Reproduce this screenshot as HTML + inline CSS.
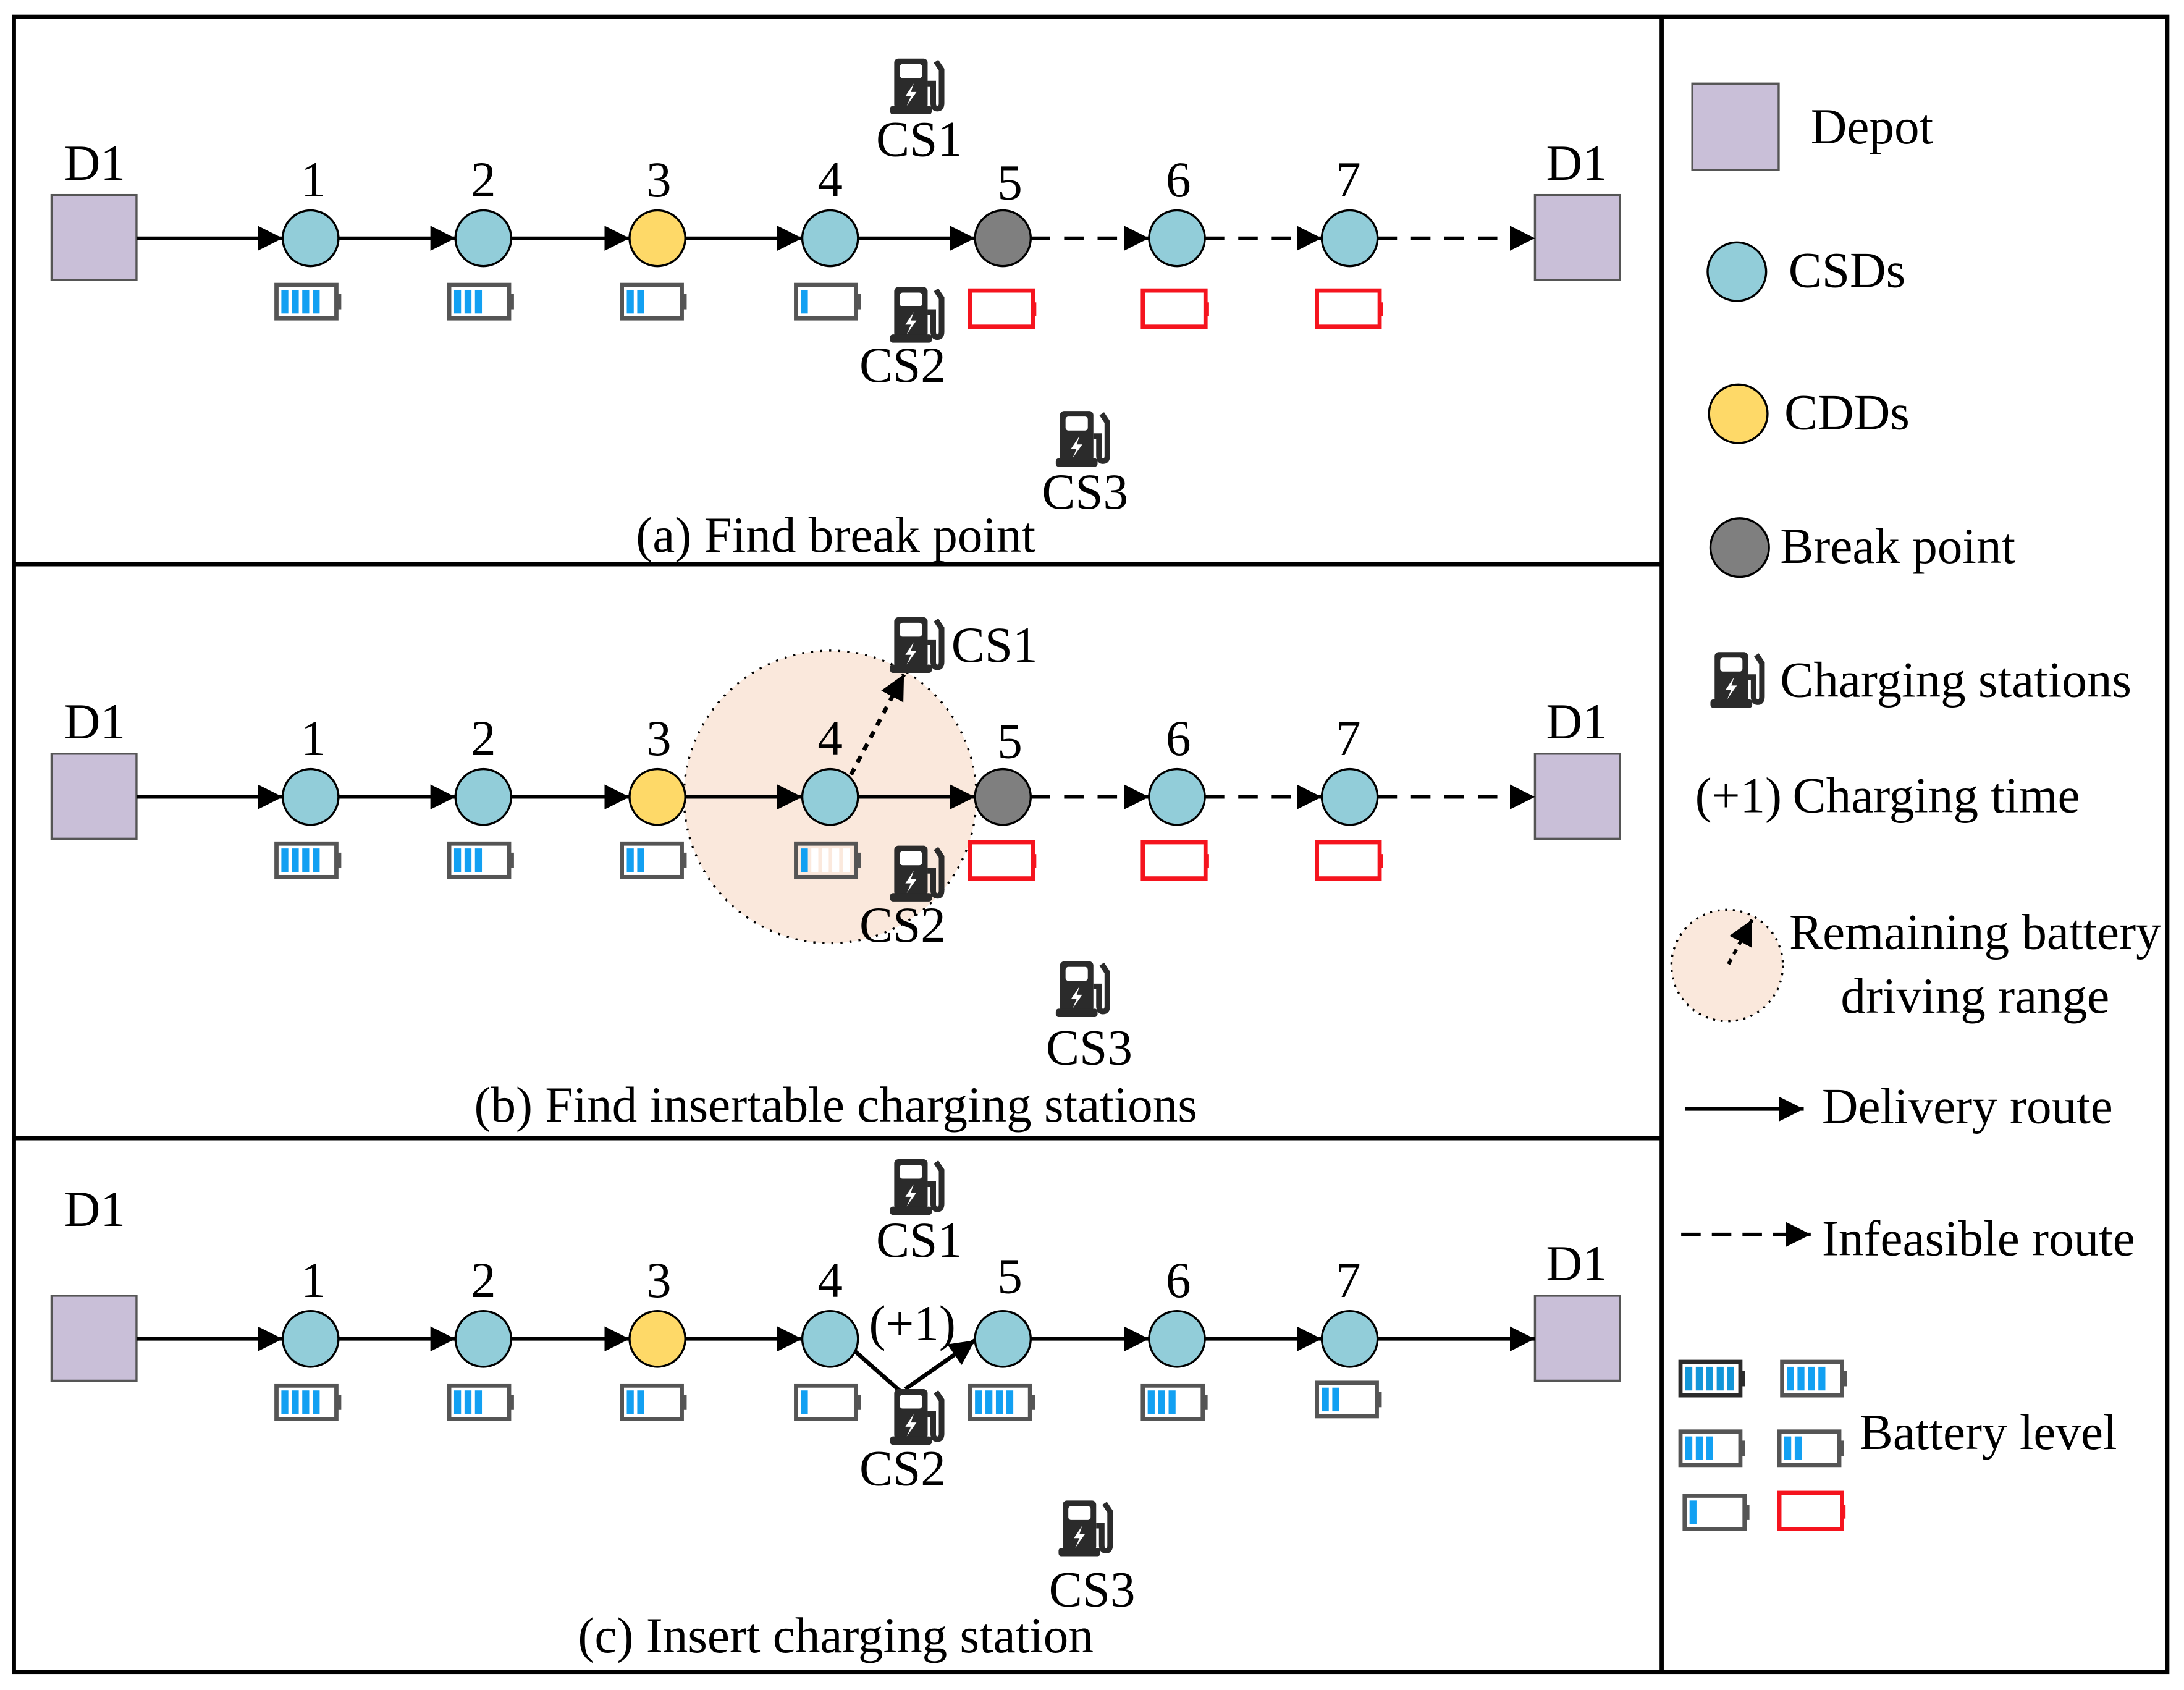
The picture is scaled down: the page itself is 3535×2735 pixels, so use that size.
<!DOCTYPE html>
<html><head><meta charset="utf-8"><style>html,body{margin:0;padding:0;background:#fff}svg{display:block}text{font-family:"Liberation Serif",serif;fill:#000}</style></head>
<body>
<svg width="3535" height="2735" viewBox="0 0 1568 1213" preserveAspectRatio="none" xmlns="http://www.w3.org/2000/svg">
<defs>
<marker id="arr" viewBox="0 0 10 10" refX="10" refY="5" markerWidth="18" markerHeight="18" orient="auto" markerUnits="userSpaceOnUse"><path d="M0,0L10,5L0,10z" fill="#000"/></marker>
<g id="cs">
<rect x="-18" y="-20" width="24" height="36" rx="3" fill="#2b2b2b"/>
<rect x="-14" y="-16" width="16" height="10" rx="2" fill="#fff"/>
<path d="M-4,-2L-10,7L-6,7L-9,14L-2,4L-6,4z" fill="#fff"/>
<rect x="-21" y="14" width="30" height="6" rx="2" fill="#2b2b2b"/>
<path d="M6,-2L10,-2L10,12Q10,16 13,16Q16,16 16,12L16,-12L12,-18" stroke="#2b2b2b" stroke-width="4" fill="none"/>
</g>
<g id="bat"><rect x="1.5" y="1.5" width="43" height="24" fill="#fff" stroke="#555" stroke-width="3"/><rect x="45" y="8" width="3" height="11" fill="#555"/></g>
<g id="red"><rect x="1.5" y="1.5" width="45" height="26" fill="#fff" stroke="#f5141e" stroke-width="3"/><rect x="46" y="10" width="3" height="10" fill="#f5141e"/></g>
<g id="b4"><use href="#bat"/><rect x="5" y="5" width="5" height="17" fill="#12a0f2"/><rect x="12.5" y="5" width="5" height="17" fill="#12a0f2"/><rect x="20" y="5" width="5" height="17" fill="#12a0f2"/><rect x="27.5" y="5" width="5" height="17" fill="#12a0f2"/></g>
<g id="b3"><use href="#bat"/><rect x="5" y="5" width="5" height="17" fill="#12a0f2"/><rect x="12.5" y="5" width="5" height="17" fill="#12a0f2"/><rect x="20" y="5" width="5" height="17" fill="#12a0f2"/></g>
<g id="b2"><use href="#bat"/><rect x="5" y="5" width="5" height="17" fill="#12a0f2"/><rect x="12.5" y="5" width="5" height="17" fill="#12a0f2"/></g>
<g id="b1"><use href="#bat"/><rect x="5" y="5" width="5" height="17" fill="#12a0f2"/></g>
</defs>

<rect x="10" y="12" width="1546" height="1188" fill="none" stroke="#000" stroke-width="3"/>
<line x1="1193" y1="12" x2="1193" y2="1200" stroke="#000" stroke-width="3"/>
<line x1="10" y1="405" x2="1193" y2="405" stroke="#000" stroke-width="3"/>
<line x1="10" y1="817" x2="1193" y2="817" stroke="#000" stroke-width="3"/>

<!-- Panel A -->
<g font-size="36" text-anchor="middle">
<rect x="37" y="140" width="61" height="61" fill="#c9bfd8" stroke="#555" stroke-width="1.5"/>
<rect x="1102" y="140" width="61" height="61" fill="#c9bfd8" stroke="#555" stroke-width="1.5"/>
<text x="68" y="129">D1</text><text x="1132" y="129">D1</text>
<g stroke="#000" stroke-width="2.5" fill="none">
<line x1="98" y1="171" x2="203" y2="171" marker-end="url(#arr)"/>
<line x1="243" y1="171" x2="327" y2="171" marker-end="url(#arr)"/>
<line x1="367" y1="171" x2="452" y2="171" marker-end="url(#arr)"/>
<line x1="492" y1="171" x2="576" y2="171" marker-end="url(#arr)"/>
<line x1="616" y1="171" x2="700" y2="171" marker-end="url(#arr)"/>
<line x1="740" y1="171" x2="825" y2="171" stroke-dasharray="14,10" marker-end="url(#arr)"/>
<line x1="865" y1="171" x2="949" y2="171" stroke-dasharray="14,10" marker-end="url(#arr)"/>
<line x1="989" y1="171" x2="1102" y2="171" stroke-dasharray="14,10" marker-end="url(#arr)"/>
</g>
<g stroke="#000" stroke-width="1.5">
<circle cx="223" cy="171" r="20" fill="#92cdd9"/><circle cx="347" cy="171" r="20" fill="#92cdd9"/><circle cx="472" cy="171" r="20" fill="#fed968"/><circle cx="596" cy="171" r="20" fill="#92cdd9"/><circle cx="720" cy="171" r="20" fill="#7f7f7f"/><circle cx="845" cy="171" r="20" fill="#92cdd9"/><circle cx="969" cy="171" r="20" fill="#92cdd9"/>
</g>
<text x="225" y="141">1</text><text x="347" y="141">2</text><text x="473" y="141">3</text><text x="596" y="141">4</text><text x="725" y="143">5</text><text x="846" y="141">6</text><text x="968" y="141">7</text>
<use href="#b4" x="197" y="203"/><use href="#b3" x="321" y="203"/><use href="#b2" x="445" y="203"/><use href="#b1" x="570" y="203"/>
<use href="#red" x="695" y="207"/><use href="#red" x="819" y="207"/><use href="#red" x="944" y="207"/>
<use href="#cs" x="660" y="62"/><text x="660" y="112">CS1</text>
<use href="#cs" x="660" y="226"/><text x="648" y="274">CS2</text>
<use href="#cs" x="779" y="315"/><text x="779" y="365">CS3</text>
<text x="600" y="396">(a) Find break point</text>
</g>

<!-- Panel B -->
<g font-size="36" text-anchor="middle">
<circle cx="596" cy="572" r="105" fill="#fae8dc" stroke="#000" stroke-width="1.5" stroke-dasharray="1.5,5"/>
<rect x="37" y="541" width="61" height="61" fill="#c9bfd8" stroke="#555" stroke-width="1.5"/>
<rect x="1102" y="541" width="61" height="61" fill="#c9bfd8" stroke="#555" stroke-width="1.5"/>
<text x="68" y="530">D1</text><text x="1132" y="530">D1</text>
<g stroke="#000" stroke-width="2.5" fill="none">
<line x1="98" y1="572" x2="203" y2="572" marker-end="url(#arr)"/>
<line x1="243" y1="572" x2="327" y2="572" marker-end="url(#arr)"/>
<line x1="367" y1="572" x2="452" y2="572" marker-end="url(#arr)"/>
<line x1="492" y1="572" x2="576" y2="572" marker-end="url(#arr)"/>
<line x1="616" y1="572" x2="700" y2="572" marker-end="url(#arr)"/>
<line x1="740" y1="572" x2="825" y2="572" stroke-dasharray="14,10" marker-end="url(#arr)"/>
<line x1="865" y1="572" x2="949" y2="572" stroke-dasharray="14,10" marker-end="url(#arr)"/>
<line x1="989" y1="572" x2="1102" y2="572" stroke-dasharray="14,10" marker-end="url(#arr)"/>
<line x1="611" y1="556" x2="649" y2="484" stroke-dasharray="5,5" stroke-width="3" marker-end="url(#arr)"/>
</g>
<g stroke="#000" stroke-width="1.5">
<circle cx="223" cy="572" r="20" fill="#92cdd9"/><circle cx="347" cy="572" r="20" fill="#92cdd9"/><circle cx="472" cy="572" r="20" fill="#fed968"/><circle cx="596" cy="572" r="20" fill="#92cdd9"/><circle cx="720" cy="572" r="20" fill="#7f7f7f"/><circle cx="845" cy="572" r="20" fill="#92cdd9"/><circle cx="969" cy="572" r="20" fill="#92cdd9"/>
</g>
<text x="225" y="542">1</text><text x="347" y="542">2</text><text x="473" y="542">3</text><text x="596" y="542">4</text><text x="725" y="544">5</text><text x="846" y="542">6</text><text x="968" y="542">7</text>
<use href="#b4" x="197" y="604"/><use href="#b3" x="321" y="604"/><use href="#b2" x="445" y="604"/>
<g transform="translate(570,604)"><rect x="1.5" y="1.5" width="43" height="24" fill="#fbe9dd" stroke="#555" stroke-width="3"/><rect x="45" y="8" width="3" height="11" fill="#555"/><rect x="5" y="5" width="5" height="17" fill="#12a0f2"/><rect x="12.5" y="5" width="5" height="17" fill="#fff"/><rect x="20" y="5" width="5" height="17" fill="#fff"/><rect x="27.5" y="5" width="5" height="17" fill="#fff"/><rect x="35" y="5" width="5" height="17" fill="#fff"/></g>
<use href="#red" x="695" y="603"/><use href="#red" x="819" y="603"/><use href="#red" x="944" y="603"/>
<use href="#cs" x="660" y="463"/><text x="714" y="475">CS1</text>
<use href="#cs" x="660" y="627"/><text x="648" y="676">CS2</text>
<use href="#cs" x="779" y="710"/><text x="782" y="764">CS3</text>
<text x="600" y="805">(b) Find insertable charging stations</text>
</g>

<!-- Panel C -->
<g font-size="36" text-anchor="middle">
<rect x="37" y="930" width="61" height="61" fill="#c9bfd8" stroke="#555" stroke-width="1.5"/>
<rect x="1102" y="930" width="61" height="61" fill="#c9bfd8" stroke="#555" stroke-width="1.5"/>
<text x="68" y="880">D1</text><text x="1132" y="919">D1</text>
<g stroke="#000" stroke-width="2.5" fill="none">
<line x1="98" y1="961" x2="203" y2="961" marker-end="url(#arr)"/>
<line x1="243" y1="961" x2="327" y2="961" marker-end="url(#arr)"/>
<line x1="367" y1="961" x2="452" y2="961" marker-end="url(#arr)"/>
<line x1="492" y1="961" x2="576" y2="961" marker-end="url(#arr)"/>
<line x1="614" y1="970" x2="648" y2="1000" stroke-width="3"/>
<line x1="650" y1="997" x2="700" y2="962" stroke-width="3" marker-end="url(#arr)"/>
<line x1="740" y1="961" x2="825" y2="961" marker-end="url(#arr)"/>
<line x1="865" y1="961" x2="949" y2="961" marker-end="url(#arr)"/>
<line x1="989" y1="961" x2="1102" y2="961" marker-end="url(#arr)"/>
</g>
<g stroke="#000" stroke-width="1.5">
<circle cx="223" cy="961" r="20" fill="#92cdd9"/><circle cx="347" cy="961" r="20" fill="#92cdd9"/><circle cx="472" cy="961" r="20" fill="#fed968"/><circle cx="596" cy="961" r="20" fill="#92cdd9"/><circle cx="720" cy="961" r="20" fill="#92cdd9"/><circle cx="845" cy="961" r="20" fill="#92cdd9"/><circle cx="969" cy="961" r="20" fill="#92cdd9"/>
</g>
<text x="225" y="931">1</text><text x="347" y="931">2</text><text x="473" y="931">3</text><text x="596" y="931">4</text><text x="725" y="928">5</text><text x="846" y="931">6</text><text x="968" y="931">7</text>
<text x="655" y="962">(+1)</text>
<use href="#b4" x="197" y="993"/><use href="#b3" x="321" y="993"/><use href="#b2" x="445" y="993"/><use href="#b1" x="570" y="993"/>
<use href="#b4" x="695" y="993"/><use href="#b3" x="819" y="993"/><use href="#b2" x="944" y="991"/>
<use href="#cs" x="660" y="852"/><text x="660" y="902">CS1</text>
<use href="#cs" x="660" y="1017"/><text x="648" y="1066">CS2</text>
<use href="#cs" x="781" y="1097"/><text x="784" y="1153">CS3</text>
<text x="600" y="1186">(c) Insert charging station</text>
</g>

<!-- Legend -->
<g font-size="36">
<rect x="1215" y="60" width="62" height="62" fill="#c9bfd8" stroke="#555" stroke-width="1.5"/>
<text x="1300" y="103">Depot</text>
<circle cx="1247" cy="195" r="21" fill="#92cdd9" stroke="#000" stroke-width="1.5"/><text x="1284" y="206">CSDs</text>
<circle cx="1248" cy="297" r="21" fill="#fed968" stroke="#000" stroke-width="1.5"/><text x="1281" y="308">CDDs</text>
<circle cx="1249" cy="393" r="21" fill="#7f7f7f" stroke="#000" stroke-width="1.5"/><text x="1278" y="404">Break point</text>
<use href="#cs" x="1249" y="488"/><text x="1278" y="500">Charging stations</text>
<text x="1217" y="583">(+1)</text><text x="1287" y="583">Charging time</text>
<circle cx="1240" cy="693" r="40" fill="#fae8dc" stroke="#000" stroke-width="1.5" stroke-dasharray="1.5,4"/>
<line x1="1241" y1="692" x2="1258" y2="660" stroke="#000" stroke-width="2.5" stroke-dasharray="4,4" marker-end="url(#arr)"/>
<text x="1418" y="681" text-anchor="middle">Remaining battery</text>
<text x="1418" y="727" text-anchor="middle">driving range</text>
<line x1="1210" y1="796" x2="1295" y2="796" stroke="#000" stroke-width="2.5" marker-end="url(#arr)"/>
<text x="1308" y="806">Delivery route</text>
<line x1="1207" y1="886" x2="1300" y2="886" stroke="#000" stroke-width="2.5" stroke-dasharray="14,8" marker-end="url(#arr)"/>
<text x="1308" y="901">Infeasible route</text>
<g transform="translate(1205,976)"><rect x="1.5" y="1.5" width="43" height="24" fill="#fff" stroke="#2b2b2b" stroke-width="3"/><rect x="45" y="8" width="3" height="11" fill="#2b2b2b"/><rect x="5" y="5" width="5" height="17" fill="#1296d8"/><rect x="12.5" y="5" width="5" height="17" fill="#1296d8"/><rect x="20" y="5" width="5" height="17" fill="#1296d8"/><rect x="27.5" y="5" width="5" height="17" fill="#1296d8"/><rect x="35" y="5" width="5" height="17" fill="#1296d8"/></g>
<use href="#b4" x="1278" y="976"/>
<use href="#b3" x="1205" y="1026"/><use href="#b2" x="1276" y="1026"/>
<use href="#b1" x="1208" y="1072"/><use href="#red" x="1276" y="1070"/>
<text x="1335" y="1040">Battery level</text>
</g>
</svg>
</body></html>
